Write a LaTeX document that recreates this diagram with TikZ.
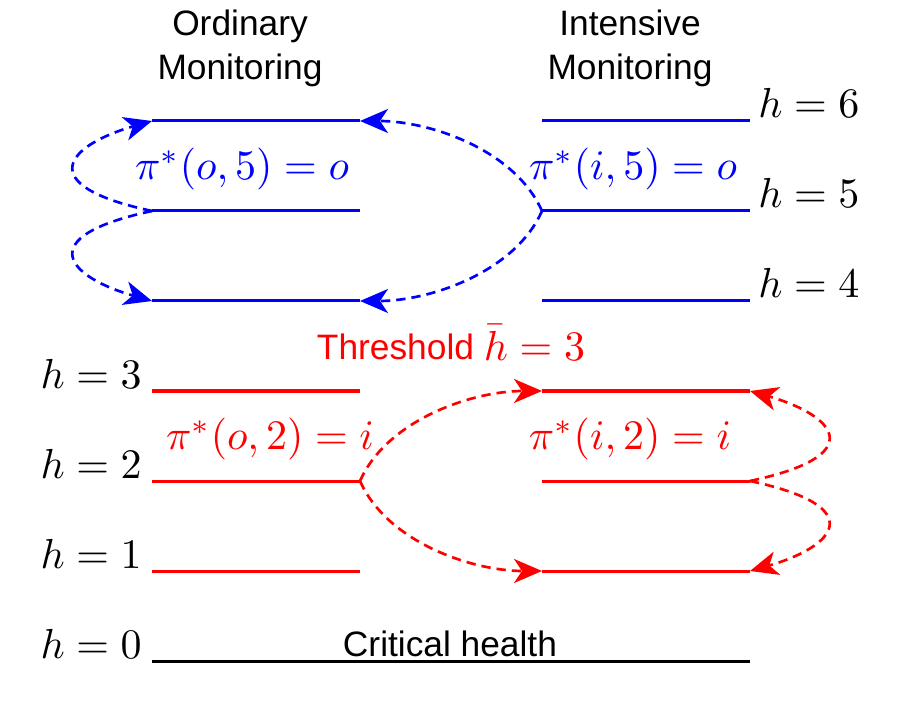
\documentclass[tikz,border=0pt]{standalone}
\usepackage[no-math]{fontspec}
\usepackage{graphicx}
\newfontfamily\arialf{Liberation Sans}
\usetikzlibrary{arrows.meta}
\definecolor{pblue}{RGB}{0,0,255}
\definecolor{pred}{RGB}{255,0,0}
\newcommand{\lgmath}[1]{\scalebox{3.15}{\fontsize{10}{12}\selectfont$#1$}}
\begin{document}
\begin{tikzpicture}[x=0.75pt,y=-0.75pt,
  level/.style={line width=2.25pt},
  jump/.style={line width=2pt, dash pattern=on 7pt off 4.5pt,
    -{Stealth[length=21pt,width=18pt,inset=6pt]}},
  mathlab/.style={inner sep=0pt},
  sanslab/.style={font=\arialf\fontsize{26.5}{33}\selectfont, inner sep=0pt, align=center}]
\useasboundingbox (0,0) rectangle (900,702);
% level coordinates
\foreach \lev/\yy in {6/121,5/211,4/301,3/391,2/481,1/571,0/661}{
  \coordinate (oL\lev) at (152,\yy);
  \coordinate (oR\lev) at (360,\yy);
  \coordinate (iL\lev) at (542,\yy);
  \coordinate (iR\lev) at (750,\yy);
}
% blue levels
\foreach \lev in {6,5,4}{
  \draw[level,pblue] (oL\lev) -- (oR\lev);
  \draw[level,pblue] (iL\lev) -- (iR\lev);
}
% red levels
\foreach \lev in {3,2,1}{
  \draw[level,pred] (oL\lev) -- (oR\lev);
  \draw[level,pred] (iL\lev) -- (iR\lev);
}
% critical
\draw[level,black] (oL0) -- (iR0);

% headers
\node[sanslab] (ordh) at (240,48) {Ordinary\\Monitoring};
\node[sanslab] (inth) at (630,48) {Intensive\\Monitoring};

% level labels
\node[mathlab,anchor=base west] (h6) at (758,118) {\lgmath{h=6}};
\node[mathlab,anchor=base west] (h5) at (758,208) {\lgmath{h=5}};
\node[mathlab,anchor=base west] (h4) at (758,298) {\lgmath{h=4}};
\node[mathlab,anchor=base east] (h3) at (142,388) {\lgmath{h=3}};
\node[mathlab,anchor=base east] (h2) at (142,478) {\lgmath{h=2}};
\node[mathlab,anchor=base east] (h1) at (142,568) {\lgmath{h=1}};
\node[mathlab,anchor=base east] (h0) at (142,658) {\lgmath{h=0}};

% policy labels
\node[mathlab,anchor=base,text=pblue] (po5) at (242,180) {\lgmath{\pi^*(o,5)=o}};
\node[mathlab,anchor=base,text=pblue] (pi5) at (633,180) {\lgmath{\pi^*(i,5)=o}};
\node[mathlab,anchor=base,text=pred] (po2) at (270,450) {\lgmath{\pi^*(o,2)=i}};
\node[mathlab,anchor=base,text=pred] (pi2) at (630,450) {\lgmath{\pi^*(i,2)=i}};
\node[sanslab,anchor=base,text=pred] (thr) at (451,360) {Threshold \lgmath{\bar h=3}};
\node[sanslab,anchor=base] (crit) at (450,656) {Critical health};

% blue transitions
\draw[jump,pblue] (iL5) .. controls (515,150) and (430,121) .. (oR6);
\draw[jump,pblue] (iL5) .. controls (515,272) and (430,301) .. (oR4);
\draw[jump,pblue] (oL5) .. controls (30,185) and (68,145) .. (oL6);
\draw[jump,pblue] (oL5) .. controls (30,237) and (68,277) .. (oL4);

% red transitions
\draw[jump,pred] (oR2) .. controls (387,420) and (472,391) .. (iL3);
\draw[jump,pred] (oR2) .. controls (387,542) and (472,571) .. (iL1);
\draw[jump,pred] (iR2) .. controls (872,455) and (834,415) .. (iR3);
\draw[jump,pred] (iR2) .. controls (872,507) and (834,547) .. (iR1);
\end{tikzpicture}
\end{document}
